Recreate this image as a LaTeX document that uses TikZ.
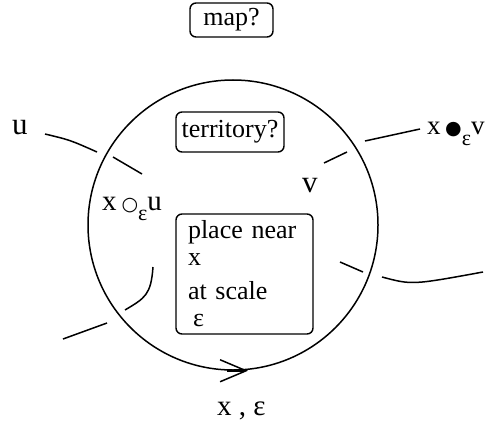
\documentclass[tikz,border=0pt]{standalone}
\usepackage{fontspec}
\setmainfont{Liberation Serif}
\newfontfamily\symfam{DejaVu Sans}
\usepackage{tikz}
\usetikzlibrary{arrows.meta}
\newcommand{\ringsym}{{\symfam\fontsize{19}{19}\selectfont ○}}
\newcommand{\dotsym}{{\symfam\fontsize{19}{19}\selectfont ●}}
\newcommand{\subeps}{\raisebox{-10pt}{\fontsize{22}{22}\selectfont ε}}
\tikzstyle{frame} = [rectangle, rounded corners=6pt, draw, line width=1.4pt, font=\fontsize{26}{27}\selectfont, inner sep=0pt]
\tikzstyle{word} = [inner sep=0pt, anchor=base west, font=\fontsize{29}{30}\selectfont]
\tikzstyle{stroke} = [line width=1.5pt]

\begin{document}
\begin{tikzpicture}[x=1pt, y=-1pt]
    \useasboundingbox (0,0) rectangle (486,422);

    % Boxes
    \node (map) [frame, minimum width=83pt, minimum height=34pt] at (231.5,20) {map?};
    \node (terr) [frame, minimum width=108pt, minimum height=40pt] at (230,132) {territory?};
    \node (place) [frame, minimum width=137pt, minimum height=120pt, text width=113pt, align=left] at (244.5,274)
        {place near\\ x\\[7pt] at scale\\ \hspace{5pt}ε};
    \node (ball) [circle, draw, line width=1.5pt, minimum size=290pt, inner sep=0pt] at (233,225) {};

    % Labels
    \node (u) [word, font=\fontsize{31}{31}\selectfont] at (12,135) {u};
    \node (xu) [word] at (102,210) {x\,\ringsym\subeps u};
    \node (v) [word, font=\fontsize{31}{31}\selectfont] at (302,192) {v};
    \node (xv) [word, font=\fontsize{27}{27}\selectfont] at (427,135) {x\,\dotsym\subeps v};
    \node (xe) [word] at (217,415) {x , ε};

    % Strands
    \coordinate (ua) at (45,134);  \coordinate (ub) at (97,152);
    \coordinate (uc) at (113,157); \coordinate (ud) at (142,174);
    \coordinate (va) at (420,129); \coordinate (vb) at (365,141);
    \coordinate (vc) at (347,152); \coordinate (vd) at (324,163);
    \coordinate (ra) at (340,262); \coordinate (rb) at (363,272);
    \coordinate (rc) at (382,277); \coordinate (rd) at (483,272);
    \coordinate (la) at (153,267); \coordinate (lb) at (125,310);
    \coordinate (lc) at (107,323); \coordinate (ld) at (63,339);

    \draw [stroke] (ua) .. controls (70,140) .. (ub);
    \draw [stroke] (uc) -- (ud);
    \draw [stroke] (va) -- (vb);
    \draw [stroke] (vc) -- (vd);
    \draw [stroke] (ra) -- (rb);
    \draw [stroke] (rc) .. controls (412,285) .. (rd);
    \draw [stroke] (la) .. controls (151,295) and (145,298) .. (lb);
    \draw [stroke] (lc) -- (ld);

    % Flow on the boundary
    \draw [stroke, -{Straight Barb[length=26pt, width=22pt]}] ([xshift=-6pt]ball.south) -- ([xshift=15pt]ball.south);
\end{tikzpicture}
\end{document}
